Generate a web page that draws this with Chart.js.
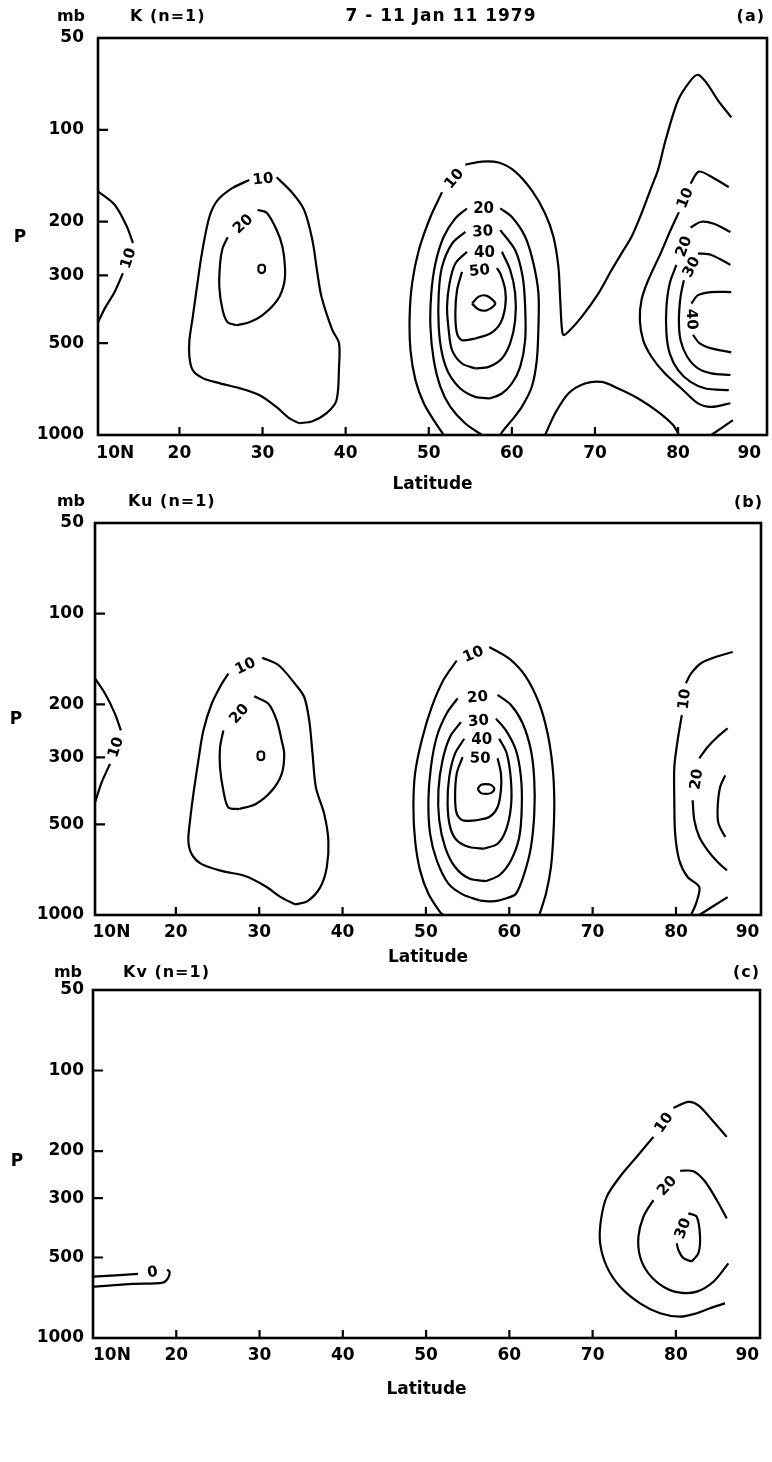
<!DOCTYPE html>
<html>
<head>
<meta charset="utf-8">
<script src="https://cdn.jsdelivr.net/npm/chart.js@4.4.0/dist/chart.umd.min.js"></script>
<style>
  html, body { margin: 0; padding: 0; background: #fff; }
  body { width: 772px; height: 1462px; position: relative; overflow: hidden; }
  canvas { position: absolute; left: 0; }
</style>
</head>
<body>
<canvas id="panelA" width="772" height="500" style="top:0px"></canvas>
<canvas id="panelB" width="772" height="480" style="top:490px"></canvas>
<canvas id="panelC" width="772" height="440" style="top:960px"></canvas>
<script>
// axis ticks
var latTicks = [10, 20, 30, 40, 50, 60, 70, 80, 90];
var pTicks = [50, 100, 200, 300, 500, 1000];

// contour lines as [latitude, pressure mb]; a null marks the gap where the level label sits

// (a) K (n=1)
var kA10eq = [[10.2,159],[12.2,176],[13.7,208],[14.4,235],null,[13.2,295],[12.2,340],[11.1,381],[10.2,427]];
var kA10sub = [[34.4,915],[33.2,881],[31.7,811],[29.6,740],[27.2,702],[24.8,676],[22.8,651],[21.6,613],[21.2,556],[21.2,489],[21.6,411],[22.1,328],[22.7,254],[23.6,193],[24.6,170],[26.4,155],[28.4,146],null,[31.7,143],[33.6,161],[35.0,183],[36.0,230],[36.6,295],[37.1,353],[38.4,453],[39.2,500],[39.2,599],[38.9,769],[37.7,848],[36.0,901],[34.4,915]];
var kA20sub = [[26.9,437],[25.8,427],[25.2,390],[24.8,328],[24.9,273],[25.2,244],[25.8,225],null,[29.4,183],[30.5,187],[31.7,213],[32.4,242],[32.7,282],[32.6,318],[31.8,361],[30.0,405],[28.4,427],[26.9,437]];
var kA30sub = [[29.9,276],[30.25,279],[30.3,285],[30.25,291],[29.9,295],[29.55,291],[29.5,285],[29.55,279],[29.9,276]];
var kA10mid = [[51.8,1000],[50.6,894],[49.4,787],[48.4,661],[47.8,527],[47.7,410],[48.0,318],[48.8,248],[50.2,193],[51.6,160],null,[54.4,130],[56.4,127],[58.4,128],[60.4,137],[62.4,158],[64.0,188],[65.0,224],[65.6,281],[65.8,352],[66.0,442],[66.2,470],[66.8,459],[68.4,410],[70.4,344],[72.0,288],[73.2,254],[74.4,224],[75.6,188],[76.8,154],[77.6,135],[78.5,108],[80.0,80],[81.5,69],[82.4,66],[83.4,70],[84.8,80],[86.4,91]];
var kA20mid = [[56.4,1000],[54.4,917],[52.6,809],[51.4,695],[50.6,568],[50.2,442],[50.3,344],[50.8,274],[51.8,224],[53.2,195],[54.6,181],null,[58.6,181],[60.0,193],[61.6,224],[62.6,274],[63.2,344],[63.2,442],[63.0,568],[62.4,695],[61.2,809],[60.0,894],[59.0,964],[58.6,1000]];
var kA30mid = [[57.4,759],[58.8,731],[60.0,678],[61.0,598],[61.6,489],[61.6,380],[61.3,303],[60.4,248],[58.6,213],null,[54.4,216],[52.8,236],[51.6,281],[51.2,344],[51.2,442],[51.6,541],[52.4,628],[53.8,704],[55.6,750],[57.4,759]];
var kA40mid = [[55.6,605],[57.2,598],[58.8,561],[59.8,500],[60.4,420],[60.4,344],[59.8,288],[58.8,251],null,[54.6,251],[53.2,274],[52.5,318],[52.2,380],[52.4,453],[52.8,527],[54.0,583],[55.6,605]];
var kA50mid = [[55.6,483],[57.4,465],[58.6,431],[59.2,380],[59.2,335],[58.6,295],[58.2,284],null,[54.0,292],[53.4,335],[53.2,400],[53.4,465],[54.0,489],[55.6,483]];
var kA60mid = [[55.2,371],[56.0,352],[57.0,350],[58.0,371],[57.0,390],[56.0,388],[55.2,371]];
var kA10low = [[64.0,1000],[65.2,850],[66.8,731],[68.8,678],[70.8,670],[72.8,704],[75.2,759],[77.6,840],[79.4,928],[80.1,1000]];
var kA10pole = [[84.0,1000],[86.6,894]];
var kA10pol = [[86.1,154],[84.3,144],[82.5,137],[81.5,150],null,[80.1,186],[79.1,213],[77.9,254],[76.4,311],[75.6,361],[75.4,420],[75.8,489],[76.8,554],[78.4,628],[80.4,704],[82.4,788],[84.0,809],[86.3,787]];
var kA20pol = [[86.3,216],[84.3,203],[82.8,200],[81.5,209],null,[79.8,277],[79.0,318],[78.6,380],[78.6,465],[79.0,541],[80.0,613],[81.5,670],[83.3,704],[86.1,713]];
var kA30pol = [[86.3,277],[84.0,257],[82.4,254],null,[80.7,311],[80.3,352],[80.1,420],[80.3,489],[81.1,554],[82.4,605],[84.0,628],[86.3,636]];
var kA40pol = [[86.4,340],[84.0,340],[82.4,348],[81.6,371],null,[81.8,470],[82.6,501],[84.0,520],[86.4,536]];

// (b) Ku (n=1)
var kuB10eq = [[10.3,164],[11.5,184],[12.7,215],[13.4,244],null,[12.1,315],[11.1,363],[10.3,423]];
var kuB10sub = [[34.3,922],[32.7,876],[30.7,801],[28.3,742],[25.5,714],[23.1,678],[21.9,628],[21.5,567],[21.7,487],[22.1,397],[22.7,307],[23.3,244],[24.3,199],[25.5,171],[26.3,158],null,[30.35,140],[32.3,148],[34.3,171],[35.4,189],[36.0,226],[36.4,292],[36.8,377],[37.8,462],[38.3,567],[38.1,696],[37.3,811],[35.8,899],[34.3,922]];
var kuB20sub = [[27.6,445],[26.3,440],[25.7,387],[25.3,324],[25.3,278],[25.7,244],null,[29.4,188],[31.1,199],[32.1,226],[32.7,264],[33.0,292],[32.7,340],[31.5,387],[29.6,428],[27.6,445]];
var kuB30sub = [[30.2,286],[30.55,289],[30.6,296],[30.55,303],[30.2,306],[29.85,303],[29.8,296],[29.85,289],[30.2,286]];
var kuB10mid = [[52.1,1000],[51.7,978],[50.3,850],[49.3,711],[48.7,565],[48.5,438],[48.7,339],[49.5,263],[50.7,204],[52.1,166],[53.7,143],null,[57.6,129],[60.0,141],[62.0,162],[63.6,199],[64.6,250],[65.2,323],[65.4,416],[65.3,537],[65.0,693],[64.4,850],[63.6,1000]];
var kuB20mid = [[56.4,894],[58.0,901],[59.6,881],[60.8,850],[61.8,729],[62.6,595],[63.0,461],[63.0,357],[62.6,284],[61.6,231],[60.2,201],[58.6,186],null,[53.8,191],[52.5,214],[51.3,256],[50.6,323],[50.3,416],[50.5,537],[51.3,659],[52.7,787],[54.4,854],[56.4,894]];
var kuB30mid = [[57.2,772],[58.8,738],[60.2,659],[61.2,551],[61.5,438],[61.4,348],[60.8,284],[59.6,244],[58.4,223],null,[54.2,229],[52.9,256],[52.0,306],[51.5,385],[51.6,485],[52.3,595],[53.5,693],[55.2,757],[57.2,772]];
var kuB40mid = [[57.0,602],[58.6,580],[59.6,523],[60.2,438],[60.2,357],[59.7,291],[58.8,260],null,[54.6,260],[53.5,291],[52.8,348],[52.6,427],[52.9,510],[53.7,565],[55.2,595],[57.0,602]];
var kuB50mid = [[56.0,485],[57.6,473],[58.6,438],[59.0,385],[59.0,339],[58.6,302],null,[54.4,299],[53.7,339],[53.5,406],[53.7,461],[54.4,485],[56.0,485]];
var kuB60mid = [[56.2,382],[56.6,370],[57.2,368],[57.8,370],[58.2,382],[57.8,394],[57.2,396],[56.6,394],[56.2,382]];
var kuB10pol = [[86.8,134],[84.8,139],[83.0,146],[81.8,158],[81.2,170],null,[80.7,217],[80.2,263],[79.8,323],[79.8,416],[79.9,537],[80.4,659],[81.4,748],[82.8,808],[82.4,917],[81.8,1000]];
var kuB10pole = [[86.2,872],[82.8,1000]];
var kuB20pol = [[86.2,240],[85.0,256],[83.8,277],[82.8,302],null,[82.0,416],[82.2,485],[82.8,551],[83.8,610],[85.0,667],[86.1,711]];
var kuB30pol = [[85.9,344],[85.3,376],[85.0,438],[85.1,497],[85.9,551]];

// (c) Kv (n=1)
var kvC0eq = [[10.0,590],[15.4,576],null,[18.9,555],[19.2,566],[19.0,598],[18.4,621],[14.8,628],[10.0,643]];
var kvC10pol = [[86.1,177],[84.5,155],[82.7,135],[81.5,131],[79.7,138],null,[77.3,177],[75.3,210],[73.3,249],[71.7,296],[71.0,362],[70.9,442],[71.7,541],[73.3,643],[75.7,742],[78.1,808],[80.5,832],[82.5,808],[84.1,774],[85.9,742]];
var kvC20pol = [[86.1,357],[84.9,305],[83.5,260],[82.1,238],[80.5,237],null,[77.3,305],[76.1,352],[75.5,418],[75.7,497],[76.7,573],[78.5,643],[80.5,677],[82.5,671],[84.5,616],[86.3,526]];
var kvC30pol = [[81.9,518],[82.7,482],[82.9,418],[82.5,352],[81.5,342],null,[80.1,442],[80.3,469],[80.9,503],[81.9,518]];

// [level, line] per panel
var contoursA = [[10,kA10eq],[10,kA10sub],[20,kA20sub],[30,kA30sub],[10,kA10mid],[20,kA20mid],[30,kA30mid],[40,kA40mid],[50,kA50mid],[60,kA60mid],[10,kA10low],[10,kA10pole],[10,kA10pol],[20,kA20pol],[30,kA30pol],[40,kA40pol]];
var contoursB = [[10,kuB10eq],[10,kuB10sub],[20,kuB20sub],[30,kuB30sub],[10,kuB10mid],[20,kuB20mid],[30,kuB30mid],[40,kuB40mid],[50,kuB50mid],[60,kuB60mid],[10,kuB10pol],[10,kuB10pole],[20,kuB20pol],[30,kuB30pol]];
var contoursC = [[0,kvC0eq],[10,kvC10pol],[20,kvC20pol],[30,kvC30pol]];

var FONT = '"DejaVu Sans", "Liberation Sans", sans-serif';
Chart.defaults.font.family = FONT;
Chart.defaults.color = '#000';

// split a line at its label gaps
function splitAtGaps(pts) {
  var segs = [], cur = [];
  pts.forEach(function (p) {
    if (p === null) { if (cur.length) segs.push(cur); cur = []; }
    else cur.push(p);
  });
  if (cur.length) segs.push(cur);
  return segs;
}

// frame, inward ticks, level labels and header text
function panelPlugin(contours, layout) {
  return {
    id: 'panelDecor',
    afterDatasetsDraw: function (chart) {
      var ctx = chart.ctx, a = chart.chartArea;
      var xs = chart.scales.x, ys = chart.scales.y;
      ctx.save();
      ctx.strokeStyle = '#000';
      ctx.fillStyle = '#000';
      ctx.lineWidth = 2.6;
      ctx.strokeRect(a.left, a.top, a.right - a.left, a.bottom - a.top);

      ctx.lineWidth = 2.2;
      ctx.beginPath();
      pTicks.slice(1, -1).forEach(function (p) {
        var py = ys.getPixelForValue(p);
        ctx.moveTo(a.left, py);
        ctx.lineTo(a.left + 10, py);
      });
      latTicks.slice(1, -1).forEach(function (l) {
        var px = xs.getPixelForValue(l);
        ctx.moveTo(px, a.bottom);
        ctx.lineTo(px, a.bottom - 8);
      });
      ctx.stroke();

      ctx.font = 'bold 15px ' + FONT;
      ctx.textAlign = 'center';
      ctx.textBaseline = 'middle';
      contours.forEach(function (c) {
        var pts = c[1];
        for (var i = 1; i < pts.length - 1; i++) {
          if (pts[i] !== null) continue;
          var x0 = xs.getPixelForValue(pts[i - 1][0]), y0 = ys.getPixelForValue(pts[i - 1][1]);
          var x1 = xs.getPixelForValue(pts[i + 1][0]), y1 = ys.getPixelForValue(pts[i + 1][1]);
          var ang = Math.atan2(y1 - y0, x1 - x0);
          if (ang > Math.PI / 2) ang -= Math.PI;
          else if (ang <= -Math.PI / 2) ang += Math.PI;
          ctx.save();
          ctx.translate((x0 + x1) / 2, (y0 + y1) / 2);
          ctx.rotate(ang);
          ctx.fillText(String(c[0]), 0, 1);
          ctx.restore();
        }
      });

      layout.header.forEach(function (h) {
        ctx.font = 'bold ' + h[4] + 'px ' + FONT;
        ctx.textAlign = h[3];
        ctx.letterSpacing = h[5] || '0px';
        ctx.fillText(h[0], h[1], h[2]);
      });
      ctx.restore();
    }
  };
}

function makePanel(id, contours, layout) {
  var datasets = [];
  contours.forEach(function (c) {
    splitAtGaps(c[1]).forEach(function (seg) {
      datasets.push({
        data: seg.map(function (p) { return { x: p[0], y: p[1] }; }),
        showLine: true,
        borderColor: '#000',
        borderWidth: 2.2,
        pointRadius: 0,
        tension: 0.3,
        fill: false
      });
    });
  });

  return new Chart(document.getElementById(id), {
    type: 'scatter',
    data: { datasets: datasets },
    options: {
      responsive: false,
      animation: false,
      devicePixelRatio: 1,
      layout: { padding: { top: layout.top, right: layout.right, left: 0, bottom: 0 } },
      plugins: { legend: { display: false }, tooltip: { enabled: false } },
      scales: {
        x: {
          type: 'linear',
          min: layout.latMin,
          max: layout.latMax,
          grid: { display: false, drawTicks: false },
          border: { display: false },
          afterBuildTicks: function (s) { s.ticks = latTicks.map(function (v) { return { value: v }; }); },
          afterFit: function (s) { s.height = layout.xHeight; },
          ticks: {
            align: 'inner', padding: layout.xPad, maxRotation: 0, autoSkip: false,
            font: { size: 17, weight: 'bold' }, color: '#000',
            callback: function (v) { return v === 10 ? '10N' : String(v); }
          },
          title: {
            display: true, text: 'Latitude', color: '#000',
            font: { size: 17, weight: 'bold' },
            padding: { top: 0, bottom: layout.titlePad }
          }
        },
        y: {
          type: 'logarithmic',
          reverse: true,
          min: 50,
          max: 1000,
          grid: { display: false, drawTicks: false },
          border: { display: false },
          afterBuildTicks: function (s) { s.ticks = pTicks.map(function (v) { return { value: v }; }); },
          afterFit: function (s) { s.width = layout.left; },
          ticks: {
            padding: layout.yPad, autoSkip: false,
            font: { size: 17, weight: 'bold' }, color: '#000',
            callback: function (v) { return String(v); }
          }
        }
      }
    },
    plugins: [panelPlugin(contours, layout)]
  });
}

makePanel('panelA', contoursA, {
  top: 38, right: 5, left: 98, xHeight: 65, xPad: 8, titlePad: 4.8, yPad: 14,
  latMin: 10.2, latMax: 90.7,
  header: [
    ['mb', 85, 17, 'right', 16],
    ['K (n=1)', 130, 17, 'left', 16, '1px'],
    ['7 - 11 Jan 11 1979', 441, 17, 'center', 17, '1px'],
    ['(a)', 765, 17, 'right', 16, '1px'],
    ['P', 20, 238, 'center', 17]
  ]
});

makePanel('panelB', contoursB, {
  top: 33, right: 11, left: 95, xHeight: 55, xPad: 7, titlePad: 1.8, yPad: 11,
  latMin: 10.3, latMax: 90.2,
  header: [
    ['mb', 85, 12, 'right', 16],
    ['Ku (n=1)', 128, 12, 'left', 16, '1px'],
    ['(b)', 763, 13, 'right', 16, '1px'],
    ['P', 16, 230, 'center', 17]
  ]
});

makePanel('panelC', contoursC, {
  top: 30, right: 12, left: 93, xHeight: 62, xPad: 7, titlePad: 0, yPad: 9,
  latMin: 10.0, latMax: 90.1,
  header: [
    ['mb', 82, 13, 'right', 16],
    ['Kv (n=1)', 123, 13, 'left', 16, '1px'],
    ['(c)', 760, 13, 'right', 16, '1px'],
    ['P', 17, 202, 'center', 17]
  ]
});
</script>
</body>
</html>
